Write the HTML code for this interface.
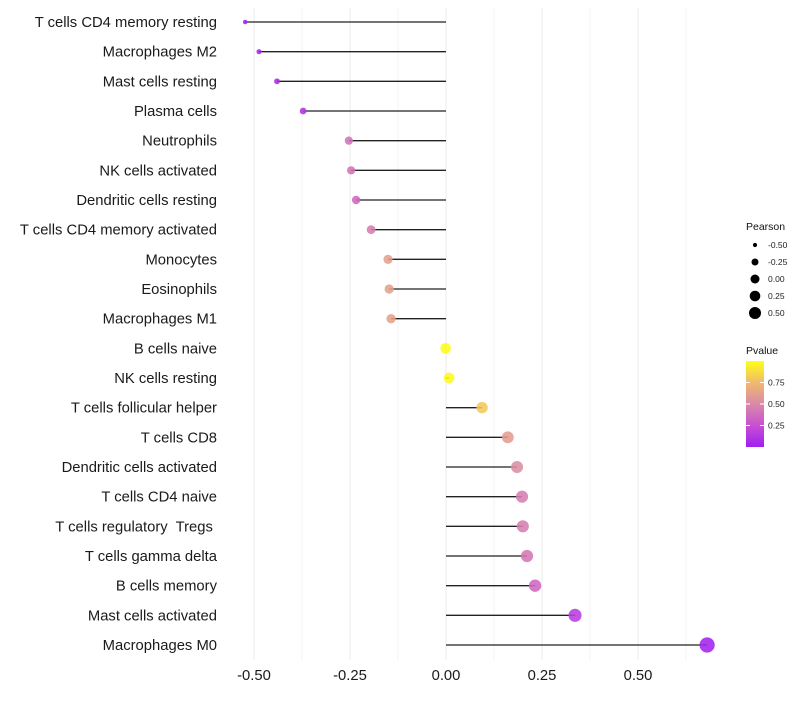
<!DOCTYPE html>
<html><head><meta charset="utf-8"><style>
body{margin:0;background:#fff;font-family:"Liberation Sans",sans-serif}
svg text{font-family:"Liberation Sans",sans-serif}
</style></head><body>
<svg id="chart" width="800" height="700" xmlns="http://www.w3.org/2000/svg">
<g id="grid"></g>
<g id="marks"></g>
<g id="ylab"></g>
<g id="xlab"></g>
<g id="legend"></g>
</svg>
<script>
const categories=["T cells CD4 memory resting","Macrophages M2","Mast cells resting","Plasma cells","Neutrophils","NK cells activated","Dendritic cells resting","T cells CD4 memory activated","Monocytes","Eosinophils","Macrophages M1","B cells naive","NK cells resting","T cells follicular helper","T cells CD8","Dendritic cells activated","T cells CD4 naive","T cells regulatory  Tregs ","T cells gamma delta","B cells memory","Mast cells activated","Macrophages M0"];
const pearson=[-0.523,-0.487,-0.44,-0.372,-0.253,-0.247,-0.234,-0.195,-0.151,-0.148,-0.143,-0.001,0.008,0.094,0.161,0.185,0.198,0.2,0.211,0.232,0.336,0.68];
const pvalue=[0.02,0.04,0.06,0.1,0.4,0.4,0.35,0.45,0.62,0.62,0.63,0.99,0.98,0.8,0.6,0.52,0.45,0.45,0.42,0.35,0.15,0.02];
const xTicks=[-0.5,-0.25,0,0.25,0.5];
const xTickLabels=["-0.50","-0.25","0.00","0.25","0.50"];
const sizeLegend=[-0.5,-0.25,0,0.25,0.5];
const sizeLegendLabels=["-0.50","-0.25","0.00","0.25","0.50"];
const pLegend=[0.25,0.5,0.75];
const pLegendLabels=["0.25","0.50","0.75"];

const NS="http://www.w3.org/2000/svg";
const xs=v=>446+384*v;
const ys=i=>22+i*(623/21);
const rs=v=>Math.sqrt(Math.max(1,28+44*v));
const stops=[[0,[160,31,240]],[0.25,[200,80,210]],[0.5,[217,138,168]],[0.75,[240,185,110]],[1,[255,255,20]]];
function col(p){for(let i=1;i<stops.length;i++){if(p<=stops[i][0]){const a=stops[i-1],b=stops[i];const t=(p-a[0])/(b[0]-a[0]);const c=a[1].map((v,k)=>Math.round(v+(b[1][k]-v)*t));return `rgb(${c})`;}}return "rgb(255,255,20)";}
function mk(tag,attrs,parent){const e=document.createElementNS(NS,tag);for(const k in attrs)e.setAttribute(k,attrs[k]);parent.appendChild(e);return e;}
const grid=document.getElementById('grid'),marks=document.getElementById('marks'),ylab=document.getElementById('ylab'),xlab=document.getElementById('xlab'),leg=document.getElementById('legend');
for(let g=-0.5;g<=0.63;g+=0.125){const l=mk('line',{x1:xs(g),x2:xs(g),y1:8,y2:660,stroke:'#ebebeb','stroke-width':Math.abs((g/0.25)-Math.round(g/0.25))<1e-6?1:0.6},grid);

}
categories.forEach((c,i)=>{
 const y=ys(i);
 const ln=mk('line',{x1:xs(0),x2:xs(pearson[i]),y1:y,y2:y,stroke:'#222','stroke-width':1.3},marks);
 
 
 const d=mk('circle',{cx:xs(pearson[i]),cy:y,r:rs(pearson[i]),fill:col(pvalue[i]),'fill-opacity':0.88},marks);
 
 
 const t=mk('text',{x:217,y:y+5,'text-anchor':'end','font-size':14.8,fill:'#1a1a1a'},ylab);t.textContent=c;
 t.setAttribute('xml:space','preserve');
 t.style.whiteSpace='pre';
 
 
});
xTicks.forEach((v,i)=>{const t=mk('text',{x:xs(v),y:680,'text-anchor':'middle','font-size':14.8,fill:'#1a1a1a'},xlab);t.textContent=xTickLabels[i];

});
let tt=mk('text',{x:746,y:230,'font-size':10.5,fill:'#111'},leg);tt.textContent='Pearson';


sizeLegend.forEach((v,i)=>{const y=245+i*17;const c=mk('circle',{cx:755,cy:y,r:rs(v)*0.85,fill:'#000'},leg);


const t=mk('text',{x:768,y:y+3,'font-size':8.5,fill:'#222'},leg);t.textContent=sizeLegendLabels[i];

});
tt=mk('text',{x:746,y:354,'font-size':10.5,fill:'#111'},leg);tt.textContent='Pvalue';


const defs=mk('defs',{},leg);const lg=mk('linearGradient',{id:'pg',x1:0,y1:1,x2:0,y2:0},defs);
stops.forEach(s=>mk('stop',{offset:s[0],'stop-color':`rgb(${s[1]})`},lg));
const bar=mk('rect',{x:746,y:361,width:18,height:86,fill:'url(#pg)'},leg);


pLegend.forEach((v,i)=>{const y=447-86*v;
const t=mk('text',{x:768,y:y+3,'font-size':8.5,fill:'#222'},leg);t.textContent=pLegendLabels[i];


mk('line',{x1:746,x2:750,y1:y,y2:y,stroke:'#fff'},leg);mk('line',{x1:760,x2:764,y1:y,y2:y,stroke:'#fff'},leg);});
</script>
</body></html>
